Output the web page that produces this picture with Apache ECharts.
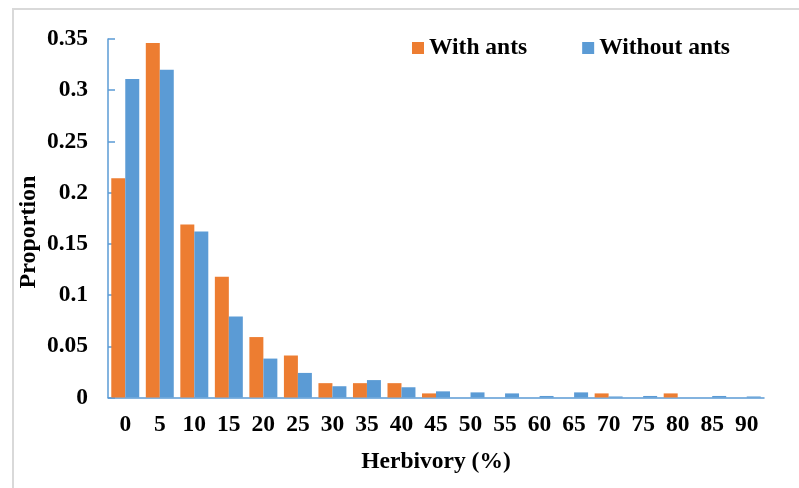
<!DOCTYPE html>
<html>
<head>
<meta charset="utf-8">
<script src="https://cdn.jsdelivr.net/npm/echarts@6/dist/echarts.min.js"></script>
<style>
  html, body { margin: 0; padding: 0; background: #fff; }
  #chart { width: 799px; height: 488px; }
</style>
</head>
<body>
<div id="chart"></div>
<script>
// herbivory classes (%)
const categories = ['0', '5', '10', '15', '20', '25', '30', '35', '40', '45',
  '50', '55', '60', '65', '70', '75', '80', '85', '90']
// proportion of leaves
const withAnts = [0.214, 0.346, 0.169, 0.118, 0.059, 0.041, 0.014, 0.014, 0.014, 0.004,
  0, 0, 0, 0, 0.004, 0, 0.004, 0, 0]
const withoutAnts = [0.311, 0.320, 0.162, 0.079, 0.038, 0.024, 0.011, 0.017, 0.010, 0.006,
  0.005, 0.004, 0.0015, 0.005, 0.001, 0.0015, 0, 0.0015, 0.001]
const yTicks = { min: 0, max: 0.35, interval: 0.05 }

const font = "'Liberation Serif', 'Times New Roman', serif"
const axisBlue = '#5B9BD5'
const fs = 23.5

const chart = echarts.init(document.getElementById('chart'))

const option = {
  animation: false,
  textStyle: { fontFamily: font },
  grid: { left: 108, right: 35, top: 39, bottom: 90.5, containLabel: false },
  legend: {
    left: 407,
    top: 31,
    itemWidth: 12,
    itemHeight: 12,
    itemGap: 55,
    icon: 'rect',
    textStyle: { fontFamily: font, fontWeight: 'bold', fontSize: fs, color: '#000' },
    data: ['With ants', 'Without ants']
  },
  xAxis: {
    type: 'category',
    data: categories,
    name: 'Herbivory (%)',
    nameLocation: 'middle',
    nameGap: 52,
    nameTextStyle: { fontFamily: font, fontWeight: 'bold', fontSize: fs, color: '#000' },
    axisLine: { lineStyle: { color: axisBlue, width: 1.5 } },
    axisTick: { show: false },
    axisLabel: { margin: 15, fontFamily: font, fontWeight: 'bold', fontSize: fs, color: '#000', interval: 0 }
  },
  yAxis: {
    type: 'value',
    min: yTicks.min,
    max: yTicks.max,
    interval: yTicks.interval,
    splitLine: { show: false },
    axisLine: { show: true, lineStyle: { color: axisBlue, width: 1.5 } },
    axisTick: { show: true, inside: true, length: 7, lineStyle: { color: axisBlue, width: 1.5 } },
    axisLabel: { margin: 20, fontFamily: font, fontWeight: 'bold', fontSize: fs, color: '#000' }
  },
  graphic: [
    {
      type: 'rect',
      shape: { x: 13, y: 9, width: 900, height: 600 },
      style: { fill: 'none', stroke: '#d9d9d9', lineWidth: 2 },
      silent: true
    },
    {
      type: 'text',
      x: 29,
      y: 232,
      rotation: Math.PI / 2,
      style: {
        text: 'Proportion',
        font: 'bold 24px ' + font,
        fill: '#000',
        align: 'center',
        verticalAlign: 'middle'
      }
    }
  ],
  series: [
    {
      name: 'With ants',
      type: 'bar',
      data: withAnts,
      barGap: '0%',
      barCategoryGap: '19%',
      itemStyle: { color: '#ED7D31' }
    },
    {
      name: 'Without ants',
      type: 'bar',
      data: withoutAnts,
      barGap: '0%',
      barCategoryGap: '19%',
      itemStyle: { color: '#5B9BD5' }
    }
  ]
}

chart.setOption(option)
</script>
</body>
</html>
